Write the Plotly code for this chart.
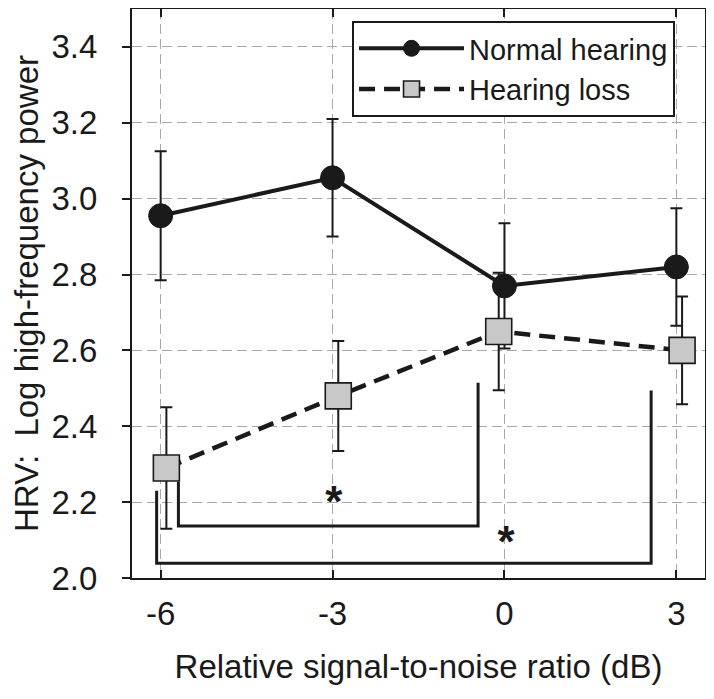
import plotly.graph_objects as go

# ---- data ----
snr = [-6, -3, 0, 3]
nh_mean = [2.955, 3.055, 2.77, 2.82]
nh_err = [0.17, 0.155, 0.165, 0.155]

hl_x = [-5.9, -2.9, -0.1, 3.1]
hl_mean = [2.29, 2.48, 2.65, 2.60]
hl_err = [0.16, 0.145, 0.155, 0.142]

# significance brackets
br1_x = [-5.69, -5.69, -0.46, -0.46]
br1_y = [2.254, 2.137, 2.137, 2.515]
br2_x = [-6.07, -6.07, 2.56, 2.56]
br2_y = [2.23, 2.039, 2.039, 2.494]
star_x = [-2.98, 0.03]
star_y = [2.19, 2.085]

x_ticks = [-6, -3, 0, 3]
y_ticks = [2.0, 2.2, 2.4, 2.6, 2.8, 3.0, 3.2, 3.4]

BLACK = "#1a1a1a"
GRAY = "#c8c8c8"
FONT = "Arial, Liberation Sans, sans-serif"

fig = go.Figure()

for bx, by in [(br1_x, br1_y), (br2_x, br2_y)]:
    fig.add_trace(go.Scatter(x=bx, y=by, mode="lines", showlegend=False,
                             hoverinfo="skip",
                             line=dict(color=BLACK, width=3)))

fig.add_trace(go.Scatter(
    x=snr, y=nh_mean, name="Normal hearing", mode="lines+markers",
    line=dict(color=BLACK, width=4),
    marker=dict(symbol="circle", size=24, color=BLACK,
                line=dict(color=BLACK, width=1)),
    error_y=dict(type="data", array=nh_err, visible=True,
                 color=BLACK, thickness=2, width=6)))

fig.add_trace(go.Scatter(
    x=hl_x, y=hl_mean, name="Hearing loss", mode="lines+markers",
    line=dict(color=BLACK, width=4.5, dash="16px,9px"),
    marker=dict(symbol="square", size=26, color=GRAY,
                line=dict(color=BLACK, width=1.6)),
    error_y=dict(type="data", array=hl_err, visible=True,
                 color=BLACK, thickness=2, width=6)))

fig.add_trace(go.Scatter(
    x=star_x, y=star_y, mode="text", text=["<b>*</b>", "<b>*</b>"],
    showlegend=False, hoverinfo="skip",
    textfont=dict(family=FONT, size=44, color=BLACK)))

# page body has an 8px margin, so the figure is 8px smaller and offset
fig.update_layout(
    width=706, height=691,
    margin=dict(l=124, r=9, t=1, b=121),
    paper_bgcolor="white", plot_bgcolor="white",
    font=dict(family=FONT, color=BLACK, size=33),
    showlegend=True,
    legend=dict(x=0.384, y=0.979, xanchor="left", yanchor="top",
                bgcolor="white", bordercolor=BLACK, borderwidth=2,
                font=dict(size=29), itemwidth=105,
                tracegroupgap=0),
)

fig.update_xaxes(
    range=[-6.5, 3.5], tickvals=x_ticks, ticktext=[str(v) for v in x_ticks],
    ticks="inside", ticklen=8, tickwidth=2, tickcolor=BLACK,
    showline=True, linecolor=BLACK, linewidth=2, mirror="ticks",
    showgrid=True, gridcolor="#a8a8a8", gridwidth=1, griddash="10px,5px",
    zeroline=False, ticklabelstandoff=5, automargin=False,
    title=dict(text="Relative signal-to-noise ratio (dB)", standoff=24,
               font=dict(size=33)),
    tickfont=dict(size=33))

fig.update_yaxes(
    range=[2.0, 3.5], tickvals=y_ticks, ticktext=[f"{v:.1f}" for v in y_ticks],
    ticks="outside", ticklen=8, tickwidth=2, tickcolor=BLACK,
    showline=True, linecolor=BLACK, linewidth=2, mirror="ticks",
    showgrid=True, gridcolor="#a8a8a8", gridwidth=1, griddash="10px,5px",
    zeroline=False, ticklabelstandoff=18, automargin=False,
    title=dict(text="HRV:\u00a0 Log high-frequency power", standoff=16,
               font=dict(size=33)),
    tickfont=dict(size=33))

fig.write_html("out.html")
